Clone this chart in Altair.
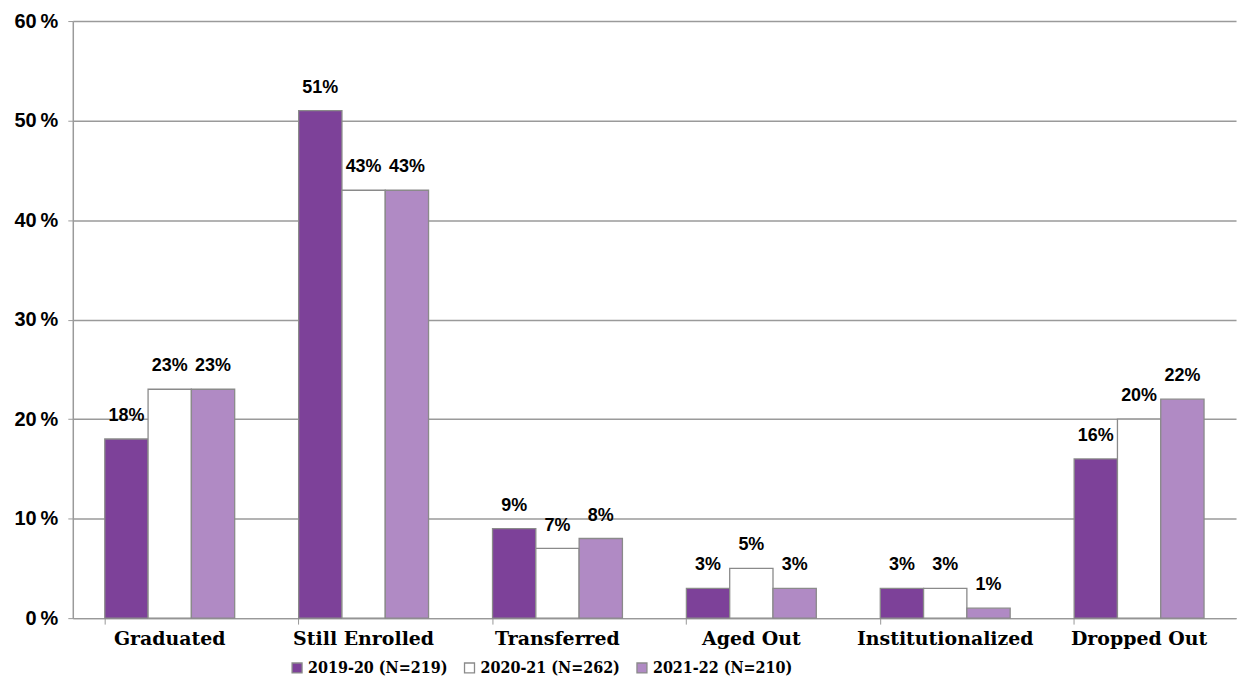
import altair as alt
import pandas as pd

categories = ["Graduated", "Still Enrolled", "Transferred", "Aged Out", "Institutionalized", "Dropped Out"]
series = ["2019-20 (N=219)", "2020-21 (N=262)", "2021-22 (N=210)"]
values_2019 = [18, 51, 9, 3, 3, 16]
values_2020 = [23, 43, 7, 5, 3, 20]
values_2021 = [23, 43, 8, 3, 1, 22]
y_ticks = [0, 10, 20, 30, 40, 50, 60]

rows = []
for s, vals in zip(series, [values_2019, values_2020, values_2021]):
    for c, v in zip(categories, vals):
        rows.append({"Category": c, "Series": s, "Value": v, "Label": f"{v}%"})
df = pd.DataFrame(rows)

slab_c = "DejaVu Serif Condensed, DejaVu Serif"
slab = "DejaVu Serif"
sans = "Liberation Sans, Arial"

x_enc = alt.X("Category:N", sort=categories, title=None,
              scale=alt.Scale(paddingInner=0.33, paddingOuter=0.165),
              axis=alt.Axis(labelAngle=0, labelFont=slab, labelFontSize=19, labelFontWeight="bold",
                            labelColor="black", labelPadding=5, labelLimit=0, labelOverlap=False,
                            bandPosition=0, ticks=True,
                            tickColor="#999999", tickSize=6, domainColor="#999999", domainWidth=1.5))
xoff = alt.XOffset("Series:N", sort=series, scale=alt.Scale(domain=series, paddingInner=0, paddingOuter=0))

bars = alt.Chart(df).mark_bar(stroke="#8a8a8a", strokeWidth=1.3).encode(
    x=x_enc,
    xOffset=xoff,
    y=alt.Y("Value:Q", title=None, scale=alt.Scale(domain=[0, 60], nice=False),
            axis=alt.Axis(values=y_ticks, labelExpr="datum.value + '\u2009%'", labelFont=sans,
                          labelFontSize=20, labelFontWeight="bold", labelColor="black",
                          gridColor="#9a9a9a", gridWidth=1.5, tickColor="#9a9a9a", tickSize=5,
                          domainColor="#9a9a9a", domainWidth=1.5, labelPadding=10)),
    color=alt.Color("Series:N", sort=series,
                    scale=alt.Scale(domain=series, range=["#7D4199", "#FFFFFF", "#B08AC4"]),
                    legend=alt.Legend(title=None, orient="none", legendX=217, legendY=641,
                                      direction="horizontal",
                                      symbolType="square", symbolSize=100, symbolStrokeColor="#8a8a8a",
                                      symbolStrokeWidth=1.3, labelFont=slab_c, labelFontSize=16,
                                      labelFontWeight="bold", labelColor="black", columnPadding=14,
                                      labelLimit=0, symbolOffset=0, labelOffset=3)),
)

labels = alt.Chart(df).mark_text(baseline="bottom", dy=-14, font=sans, fontSize=18,
                                 fontWeight="bold", color="black").encode(
    x=alt.X("Category:N", sort=categories),
    xOffset=xoff,
    y="Value:Q",
    text="Label:N",
)

chart = alt.layer(bars, labels).properties(
    width=1167, height=599,
    autosize=alt.AutoSizeParams(type="none"),
    padding={"left": 65, "top": 12, "right": 10, "bottom": 70},
).configure_view(stroke=None).configure_axisX(grid=False)

chart.save("out.html", embed_options={"renderer": "svg", "actions": False})
